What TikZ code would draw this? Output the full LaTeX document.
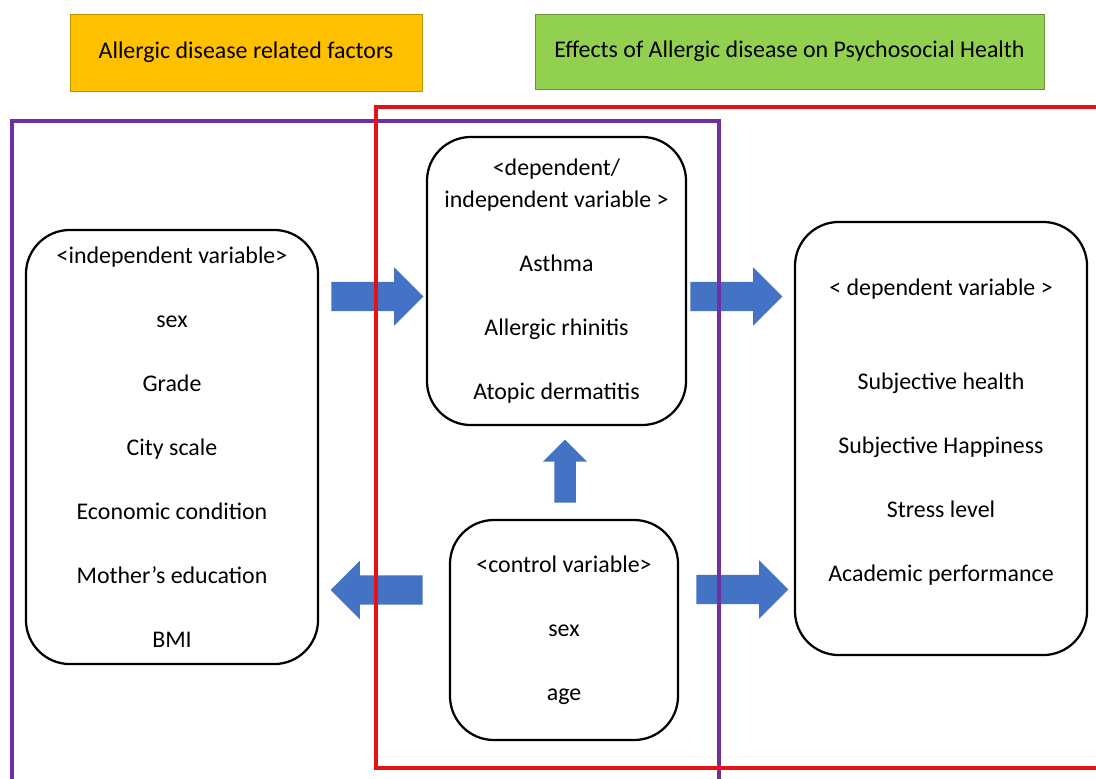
\documentclass[tikz,border=0pt]{standalone}
\usepackage{fontspec}
\setmainfont{Carlito}
\usepackage{xcolor}
\usetikzlibrary{shapes,arrows,positioning}
\definecolor{arrowblue}{RGB}{68,114,196}
\definecolor{framepurple}{RGB}{112,48,160}
\definecolor{framered}{RGB}{226,18,22}
\definecolor{titleorange}{RGB}{255,192,0}
\definecolor{titlegreen}{RGB}{146,208,80}
\tikzset{
      varbox/.style     = {draw, black, line width=1.6pt, rounded corners=1.1cm, align=center, fill=white},
      titlebox/.style   = {align=center, line width=0.6pt},
      blockarrow/.style = {single arrow, fill=arrowblue, draw=none, inner xsep=0pt, inner ysep=0.36cm, anchor=tail,
                           single arrow head extend=0.36cm, minimum width=1.45cm, minimum height=2.3cm},
      frame/.style      = {line width=2.2pt},
    }

\begin{document}
\begin{tikzpicture}[x=0.025cm, y=-0.025cm,
        every node/.style={font=\fontsize{17pt}{45.5pt}\selectfont},
        ]
        \clip (0,0) rectangle (1096,778);
        \fill[white] (0,0) rectangle (1096,778);

        % headings
        \node [titlebox, draw=titleorange!75!black, fill=titleorange, minimum width=8.8cm, minimum height=1.925cm] (relfactors) at (246,52.5) {Allergic disease related factors};
        \node [titlebox, draw=titlegreen!70!black, fill=titlegreen, minimum width=12.725cm, minimum height=1.875cm] (effects) at (789.5,51.5) {Effects of Allergic disease on Psychosocial Health};

        % block arrows
        \node [blockarrow] (arrindep) at (331,296.5) {};
        \node [blockarrow] (arrdep) at (690,296.5) {};
        \node [blockarrow, inner ysep=0.26cm, minimum width=1.1cm, minimum height=1.575cm, single arrow head extend=0.28cm, rotate=90] (arrup) at (565,503) {};
        \node [blockarrow, shape border rotate=180] (arrleft) at (423,590) {};
        \node [blockarrow] (arrright) at (696,589.5) {};

        % frames
        \draw [frame, framepurple] (12,121) rectangle (719,820);
        \draw [frame, framered] (376,107) rectangle (1130,768);

        % variable boxes
        \node [varbox, minimum width=7.3cm, minimum height=10.85cm] (indep) at (172,447)
            {<independent variable>\\ sex\\ Grade\\ City scale\\ Economic condition\\ Mother's education\\ BMI};
        \node [varbox, minimum width=6.475cm, minimum height=7.2cm] (depindep) at (556.5,281)
            {<dependent/\\[-22.7pt] independent variable >\\ Asthma\\ Allergic rhinitis\\ Atopic dermatitis};
        \node [varbox, minimum width=7.3cm, minimum height=10.825cm] (dep) at (941,438.5)
            {< dependent variable >\\[21pt] Subjective health\\ Subjective Happiness\\ Stress level\\ Academic performance\\[-34pt]\mbox{}};
        \node [varbox, minimum width=5.7cm, minimum height=5.5cm] (ctrl) at (564,630)
            {<control variable>\\ sex\\ age};

\end{tikzpicture}
\end{document}
